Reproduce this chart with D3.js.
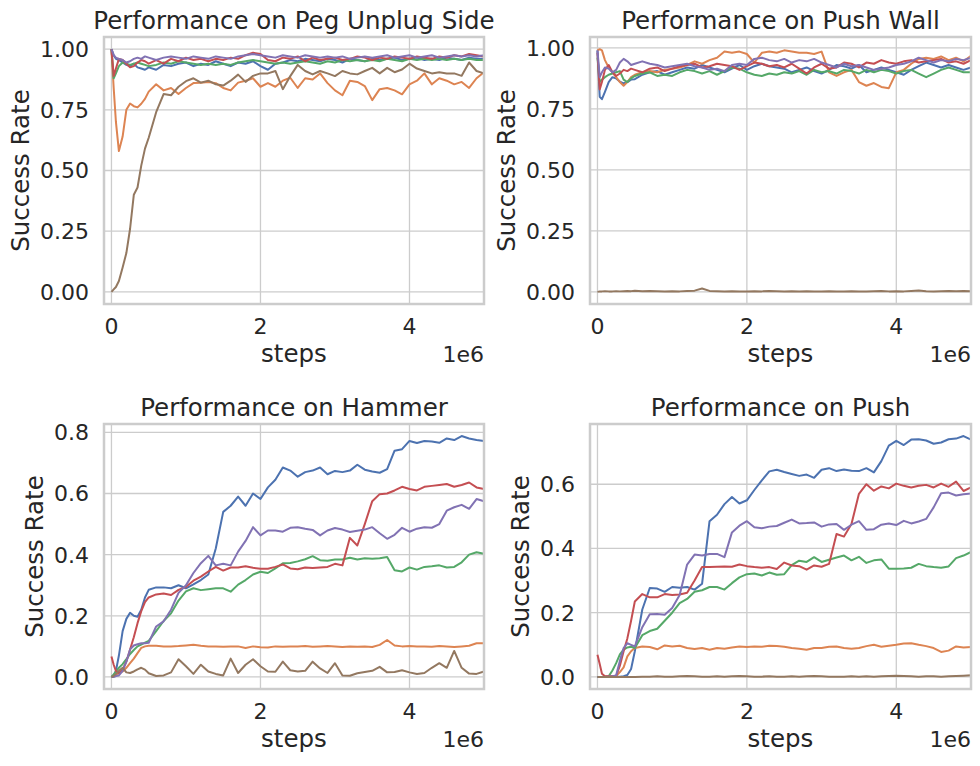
<!DOCTYPE html>
<html>
<head>
<meta charset="utf-8">
<title>Success Rate</title>
<script src="https://cdnjs.cloudflare.com/ajax/libs/d3/7.8.5/d3.min.js"></script>
<style>
    body { margin: 0; background: #fff; }
    svg { display: block; font-family: "DejaVu Sans", sans-serif; }
    .grid line { stroke: #cccccc; stroke-width: 1.3px; }
    .frame { fill: none; stroke: #cccccc; stroke-width: 2.5px; }
    .tick-label { font-size: 22px; fill: #262626; }
    .axis-label, .title { font-size: 24.5px; fill: #262626; }
    .series { fill: none; stroke-width: 2px; stroke-linejoin: round; }
</style>
</head>
<body>
<svg id="chart"></svg>
<script>
// steps in units of 1e6
const steps = [0, 0.03, 0.06, 0.1, 0.15, 0.2, 0.25, 0.3, 0.35, 0.4, 0.45, 0.5,
    0.6, 0.7, 0.8, 0.9, 1.0, 1.1, 1.2, 1.3, 1.4,
    1.5, 1.6, 1.7, 1.8, 1.9, 2.0, 2.1, 2.2, 2.3,
    2.4, 2.5, 2.6, 2.7, 2.8, 2.9, 3.0, 3.1, 3.2,
    3.3, 3.4, 3.5, 3.6, 3.7, 3.8, 3.9, 4.0, 4.1,
    4.2, 4.3, 4.4, 4.5, 4.6, 4.7, 4.8, 4.9, 5.0];

const xTicks = [0, 2, 4];
const yTicksTop = [0, 0.25, 0.5, 0.75, 1.0];
const yTicksHammer = [0, 0.2, 0.4, 0.6, 0.8];
const yTicksPush = [0, 0.2, 0.4, 0.6];

const titles = ["Performance on Peg Unplug Side", "Performance on Push Wall",
    "Performance on Hammer", "Performance on Push"];

// seaborn "deep": blue, orange, green, red, purple, brown
const colors = ["#4c72b0", "#dd8452", "#55a868", "#c44e52", "#8172b3", "#937860"];

// --- Peg Unplug Side
const pegBlue = [1.0, 0.975, 0.96, 0.955, 0.945, 0.935, 0.93, 0.94, 0.925, 0.92, 0.915, 0.925,
    0.915, 0.935, 0.93, 0.94, 0.945, 0.93, 0.94, 0.935, 0.95,
    0.94, 0.93, 0.945, 0.94, 0.95, 0.93, 0.915, 0.94, 0.945,
    0.955, 0.95, 0.96, 0.955, 0.95, 0.96, 0.955, 0.945, 0.96,
    0.955, 0.95, 0.96, 0.955, 0.96, 0.965, 0.955, 0.96, 0.965,
    0.955, 0.96, 0.955, 0.965, 0.96, 0.955, 0.965, 0.96, 0.96];
const pegOrange = [1.0, 0.84, 0.70, 0.58, 0.64, 0.75, 0.776, 0.765, 0.76, 0.775, 0.795, 0.825,
    0.855, 0.83, 0.84, 0.815, 0.84, 0.86, 0.862, 0.865, 0.86,
    0.84, 0.83, 0.862, 0.87, 0.88, 0.845, 0.86, 0.845, 0.87,
    0.882, 0.84, 0.88, 0.875, 0.9, 0.86, 0.83, 0.81, 0.87,
    0.865, 0.848, 0.79, 0.835, 0.84, 0.83, 0.814, 0.855, 0.87,
    0.9, 0.855, 0.88, 0.87, 0.855, 0.865, 0.84, 0.88, 0.905];
const pegGreen = [1.0, 0.88, 0.9, 0.93, 0.945, 0.94, 0.935, 0.94, 0.945, 0.94, 0.935, 0.93,
    0.935, 0.945, 0.94, 0.95, 0.945, 0.94, 0.935, 0.94, 0.935,
    0.94, 0.935, 0.945, 0.95, 0.955, 0.95, 0.945, 0.94, 0.945,
    0.94, 0.945, 0.95, 0.945, 0.94, 0.95, 0.945, 0.955, 0.95,
    0.955, 0.95, 0.955, 0.95, 0.96, 0.955, 0.95, 0.96, 0.955,
    0.96, 0.955, 0.96, 0.955, 0.96, 0.955, 0.96, 0.955, 0.955];
const pegRed = [1.0, 0.89, 0.92, 0.96, 0.955, 0.94, 0.925, 0.93, 0.945, 0.955, 0.95, 0.94,
    0.955, 0.94, 0.96, 0.95, 0.965, 0.955, 0.96, 0.95, 0.96,
    0.955, 0.965, 0.96, 0.975, 0.985, 0.98, 0.955, 0.95, 0.965,
    0.96, 0.97, 0.95, 0.965, 0.955, 0.96, 0.965, 0.955, 0.96,
    0.97, 0.965, 0.955, 0.965, 0.96, 0.97, 0.965, 0.96, 0.97,
    0.965, 0.96, 0.97, 0.965, 0.975, 0.97, 0.98, 0.975, 0.97];
const pegPurple = [1.0, 0.975, 0.965, 0.96, 0.955, 0.945, 0.95, 0.96, 0.965, 0.96, 0.97, 0.965,
    0.955, 0.965, 0.97, 0.965, 0.96, 0.97, 0.965, 0.96, 0.97,
    0.965, 0.96, 0.97, 0.975, 0.98, 0.975, 0.97, 0.965, 0.975,
    0.97, 0.965, 0.975, 0.97, 0.965, 0.97, 0.965, 0.97, 0.96,
    0.965, 0.97, 0.965, 0.97, 0.975, 0.965, 0.97, 0.975, 0.965,
    0.97, 0.975, 0.965, 0.97, 0.975, 0.97, 0.975, 0.97, 0.975];
const pegBrown = [0, 0.01, 0.02, 0.045, 0.1, 0.16, 0.26, 0.4, 0.43, 0.52, 0.59, 0.635,
    0.74, 0.815, 0.81, 0.845, 0.868, 0.88, 0.862, 0.87, 0.855,
    0.85, 0.87, 0.895, 0.865, 0.89, 0.9, 0.9, 0.91, 0.835,
    0.889, 0.935, 0.91, 0.896, 0.91, 0.9, 0.889, 0.91, 0.9,
    0.896, 0.91, 0.923, 0.9, 0.923, 0.905, 0.916, 0.94, 0.92,
    0.91, 0.9, 0.905, 0.9, 0.9, 0.89, 0.945, 0.91, 0.9];

// --- Push Wall
const wallBlue = [0.99, 0.80, 0.79, 0.82, 0.86, 0.88, 0.875, 0.862, 0.855, 0.86, 0.87, 0.872,
    0.89, 0.9, 0.905, 0.89, 0.9, 0.91, 0.92, 0.915, 0.93,
    0.92, 0.91, 0.9, 0.915, 0.93, 0.91, 0.925, 0.935, 0.925,
    0.92, 0.915, 0.9, 0.91, 0.92, 0.905, 0.895, 0.91, 0.93,
    0.925, 0.915, 0.93, 0.9, 0.91, 0.92, 0.91, 0.9, 0.89,
    0.91, 0.925, 0.94, 0.93, 0.92, 0.93, 0.92, 0.91, 0.92];
const wallOrange = [0.99, 0.995, 0.99, 0.95, 0.92, 0.9, 0.88, 0.86, 0.845, 0.86, 0.88, 0.89,
    0.9, 0.905, 0.9, 0.91, 0.915, 0.92, 0.93, 0.945, 0.935,
    0.95, 0.96, 0.985, 0.98, 0.985, 0.975, 0.94, 0.98, 0.985,
    0.98, 0.99, 0.985, 0.98, 0.98, 0.975, 0.985, 0.9, 0.885,
    0.9, 0.91, 0.86, 0.845, 0.856, 0.84, 0.835, 0.9, 0.91,
    0.935, 0.955, 0.96, 0.955, 0.965, 0.95, 0.96, 0.945, 0.968];
const wallGreen = [0.96, 0.86, 0.87, 0.88, 0.89, 0.895, 0.9, 0.905, 0.87, 0.86, 0.875, 0.885,
    0.895, 0.9, 0.885, 0.89, 0.885, 0.9, 0.91, 0.905, 0.895,
    0.905, 0.89, 0.905, 0.92, 0.915, 0.9, 0.89, 0.885, 0.895,
    0.89, 0.9, 0.895, 0.905, 0.89, 0.91, 0.9, 0.905, 0.895,
    0.91, 0.905, 0.895, 0.91, 0.9, 0.91, 0.905, 0.895, 0.905,
    0.91, 0.895, 0.88, 0.895, 0.91, 0.92, 0.91, 0.9, 0.9];
const wallRed = [0.98, 0.83, 0.86, 0.91, 0.93, 0.9, 0.885, 0.895, 0.91, 0.905, 0.915, 0.91,
    0.9, 0.915, 0.92, 0.905, 0.915, 0.925, 0.93, 0.935, 0.92,
    0.925, 0.935, 0.93, 0.925, 0.91, 0.925, 0.94, 0.935, 0.925,
    0.93, 0.92, 0.935, 0.915, 0.895, 0.92, 0.935, 0.915, 0.92,
    0.94, 0.935, 0.92, 0.94, 0.935, 0.95, 0.94, 0.935, 0.945,
    0.95, 0.94, 0.945, 0.95, 0.955, 0.94, 0.945, 0.935, 0.95];
const wallPurple = [0.99, 0.88, 0.9, 0.92, 0.915, 0.9, 0.91, 0.94, 0.955, 0.945, 0.93, 0.935,
    0.945, 0.935, 0.93, 0.92, 0.925, 0.93, 0.935, 0.925, 0.92,
    0.91, 0.915, 0.905, 0.93, 0.935, 0.93, 0.955, 0.96, 0.95,
    0.945, 0.955, 0.94, 0.95, 0.945, 0.955, 0.94, 0.93, 0.92,
    0.935, 0.925, 0.93, 0.92, 0.91, 0.915, 0.92, 0.93, 0.935,
    0.945, 0.96, 0.95, 0.94, 0.95, 0.945, 0.955, 0.95, 0.96];
const wallBrown = [0, 0.002, 0.002, 0.003, 0.002, 0.002, 0.003, 0.002, 0.003, 0.004, 0.003, 0.005,
    0.003, 0.004, 0.003, 0.002, 0.003, 0.002, 0.004, 0.005, 0.014,
    0.004, 0.003, 0.002, 0.003, 0.002, 0.002, 0.003, 0.002, 0.004,
    0.003, 0.002, 0.003, 0.002, 0.003, 0.002, 0.002, 0.003, 0.002,
    0.002, 0.003, 0.002, 0.002, 0.003, 0.004, 0.002, 0.003, 0.002,
    0.004, 0.006, 0.003, 0.002, 0.003, 0.004, 0.003, 0.004, 0.003];

// --- Hammer
const hamBlue = [0, 0.005, 0.02, 0.07, 0.15, 0.19, 0.21, 0.2, 0.197, 0.22, 0.26, 0.285,
    0.293, 0.293, 0.29, 0.3, 0.29, 0.303, 0.317, 0.335, 0.42,
    0.54, 0.56, 0.59, 0.56, 0.6, 0.582, 0.62, 0.645, 0.685,
    0.675, 0.655, 0.67, 0.675, 0.685, 0.663, 0.674, 0.67, 0.675,
    0.694, 0.678, 0.672, 0.668, 0.68, 0.74, 0.745, 0.772, 0.765,
    0.772, 0.77, 0.766, 0.78, 0.775, 0.788, 0.78, 0.775, 0.772];
const hamOrange = [0, 0.003, 0.008, 0.012, 0.018, 0.03, 0.045, 0.06, 0.078, 0.095, 0.1, 0.102,
    0.102, 0.1, 0.1, 0.101, 0.103, 0.105, 0.102, 0.1, 0.1,
    0.099, 0.1, 0.1, 0.095, 0.1, 0.097, 0.096, 0.1, 0.099,
    0.1, 0.1, 0.101, 0.099, 0.1, 0.101, 0.1, 0.098, 0.1,
    0.099, 0.1, 0.098, 0.105, 0.121, 0.103, 0.1, 0.101, 0.1,
    0.1, 0.099, 0.101, 0.1, 0.098, 0.1, 0.102, 0.11, 0.11];
const hamGreen = [0, 0.008, 0.018, 0.03, 0.042, 0.058, 0.075, 0.088, 0.1, 0.106, 0.112, 0.118,
    0.15, 0.183, 0.208, 0.25, 0.28, 0.29, 0.284, 0.287, 0.29,
    0.29, 0.279, 0.302, 0.317, 0.335, 0.344, 0.34, 0.355, 0.372,
    0.373, 0.378, 0.385, 0.395, 0.382, 0.38, 0.384, 0.384, 0.39,
    0.384, 0.388, 0.387, 0.388, 0.392, 0.349, 0.345, 0.358, 0.351,
    0.36, 0.362, 0.365, 0.358, 0.36, 0.375, 0.4, 0.408, 0.403];
const hamRed = [0.067, 0.04, 0.02, 0.013, 0.024, 0.05, 0.09, 0.13, 0.176, 0.215, 0.245, 0.26,
    0.27, 0.273, 0.268, 0.285, 0.295, 0.315, 0.328, 0.345, 0.36,
    0.348, 0.358, 0.358, 0.362, 0.357, 0.354, 0.354, 0.36, 0.368,
    0.355, 0.352, 0.358, 0.356, 0.358, 0.36, 0.37, 0.365, 0.455,
    0.43, 0.5, 0.575, 0.598, 0.6, 0.61, 0.622, 0.615, 0.61,
    0.622, 0.625, 0.628, 0.631, 0.622, 0.628, 0.636, 0.62, 0.615];
const hamPurple = [0, 0, 0.003, 0.005, 0.02, 0.05, 0.09, 0.103, 0.107, 0.11, 0.11, 0.112,
    0.165, 0.182, 0.22, 0.275, 0.3, 0.34, 0.372, 0.396, 0.365,
    0.37, 0.365, 0.41, 0.445, 0.49, 0.463, 0.479, 0.479, 0.475,
    0.488, 0.49, 0.485, 0.481, 0.463, 0.479, 0.487, 0.482, 0.474,
    0.478, 0.482, 0.49, 0.47, 0.452, 0.465, 0.488, 0.475, 0.485,
    0.49, 0.488, 0.5, 0.544, 0.555, 0.563, 0.55, 0.582, 0.575];
const hamBrown = [0, 0.003, 0.01, 0.02, 0.03, 0.015, 0.013, 0.018, 0.025, 0.03, 0.024, 0.012,
    0.003, 0.005, 0.015, 0.058, 0.035, 0.01, 0.04, 0.018, 0.01,
    0.005, 0.06, 0.013, 0.04, 0.058, 0.035, 0.018, 0.017, 0.05,
    0.022, 0.018, 0.02, 0.05, 0.028, 0.013, 0.045, 0.005, 0.004,
    0.012, 0.016, 0.02, 0.033, 0.015, 0.016, 0.022, 0.015, 0.01,
    0.013, 0.03, 0.045, 0.03, 0.085, 0.03, 0.011, 0.01, 0.018];

// --- Push
const pushBlue = [0, 0, 0, 0, 0, 0.001, 0.001, 0.001, 0.002, 0.006, 0.025, 0.08,
    0.21, 0.277, 0.275, 0.265, 0.28, 0.278, 0.28, 0.272, 0.29,
    0.485, 0.505, 0.538, 0.56, 0.54, 0.55, 0.582, 0.612, 0.64,
    0.645, 0.638, 0.632, 0.626, 0.63, 0.62, 0.645, 0.65, 0.641,
    0.646, 0.642, 0.641, 0.65, 0.637, 0.672, 0.72, 0.735, 0.722,
    0.739, 0.74, 0.736, 0.726, 0.73, 0.74, 0.742, 0.75, 0.739];
const pushOrange = [0, 0, 0, 0, 0.001, 0.002, 0.003, 0.015, 0.03, 0.064, 0.08, 0.09,
    0.095, 0.093, 0.086, 0.098, 0.095, 0.097, 0.09, 0.087, 0.09,
    0.085, 0.09, 0.088, 0.092, 0.095, 0.093, 0.095, 0.094, 0.097,
    0.096, 0.094, 0.09, 0.088, 0.085, 0.09, 0.09, 0.094, 0.095,
    0.09, 0.088, 0.09, 0.096, 0.1, 0.094, 0.097, 0.1, 0.104,
    0.105, 0.1, 0.096, 0.09, 0.078, 0.082, 0.095, 0.092, 0.093];
const pushGreen = [0, 0, 0, 0.001, 0.002, 0.02, 0.043, 0.07, 0.085, 0.092, 0.094, 0.09,
    0.13, 0.143, 0.15, 0.175, 0.2, 0.23, 0.243, 0.265, 0.27,
    0.28, 0.28, 0.272, 0.292, 0.31, 0.32, 0.322, 0.316, 0.325,
    0.318, 0.32, 0.348, 0.362, 0.358, 0.373, 0.358, 0.365, 0.372,
    0.378, 0.363, 0.374, 0.355, 0.363, 0.366, 0.337, 0.337, 0.338,
    0.34, 0.352, 0.345, 0.342, 0.34, 0.344, 0.37, 0.378, 0.389];
const pushRed = [0.069, 0.04, 0.01, 0.002, 0.002, 0.002, 0.003, 0.035, 0.08, 0.12, 0.175, 0.235,
    0.258, 0.248, 0.248, 0.258, 0.255, 0.257, 0.262, 0.3, 0.342,
    0.342, 0.343, 0.344, 0.343, 0.35, 0.345, 0.342, 0.34, 0.342,
    0.336, 0.356, 0.347, 0.345, 0.334, 0.347, 0.343, 0.352, 0.445,
    0.437, 0.476, 0.57, 0.6, 0.58, 0.593, 0.587, 0.602, 0.595,
    0.59, 0.595, 0.598, 0.59, 0.602, 0.592, 0.608, 0.579, 0.59];
const pushPurple = [0, 0, 0, 0, 0.001, 0.002, 0.005, 0.05, 0.09, 0.105, 0.1, 0.095,
    0.155, 0.195, 0.196, 0.194, 0.215, 0.255, 0.35, 0.381, 0.378,
    0.383, 0.383, 0.373, 0.45, 0.471, 0.485, 0.466, 0.463, 0.468,
    0.47, 0.48, 0.49, 0.478, 0.479, 0.481, 0.468, 0.475, 0.476,
    0.458, 0.474, 0.485, 0.458, 0.46, 0.474, 0.478, 0.473, 0.486,
    0.478, 0.484, 0.492, 0.528, 0.572, 0.574, 0.565, 0.569, 0.571];
const pushBrown = [0, 0, 0, 0, 0, 0, 0, 0, 0, 0, 0, 0,
    0.001, 0.001, 0.002, 0.001, 0.001, 0.002, 0.003, 0.002, 0.001,
    0.001, 0.002, 0.001, 0.002, 0.003, 0.002, 0.001, 0.001, 0.002,
    0.001, 0.001, 0.002, 0.001, 0.002, 0.003, 0.002, 0.001, 0.001,
    0.001, 0.002, 0.001, 0.002, 0.001, 0.002, 0.003, 0.004, 0.003,
    0.002, 0.001, 0.002, 0.002, 0.001, 0.002, 0.003, 0.004, 0.005];

const panels = [
    { title: titles[0], yTicks: yTicksTop, fmt: ".2f",
      series: [pegBlue, pegOrange, pegGreen, pegRed, pegPurple, pegBrown] },
    { title: titles[1], yTicks: yTicksTop, fmt: ".2f",
      series: [wallBlue, wallOrange, wallGreen, wallRed, wallPurple, wallBrown] },
    { title: titles[2], yTicks: yTicksHammer, fmt: ".1f",
      series: [hamBlue, hamOrange, hamGreen, hamRed, hamPurple, hamBrown] },
    { title: titles[3], yTicks: yTicksPush, fmt: ".1f",
      series: [pushBlue, pushOrange, pushGreen, pushRed, pushPurple, pushBrown] }
];

// axes boxes in pixels
const frames = [
    { left: 104, right: 484, top: 37, bottom: 304 },
    { left: 590, right: 971, top: 37, bottom: 304 },
    { left: 104, right: 484, top: 424, bottom: 689 },
    { left: 590, right: 971, top: 424, bottom: 689 }
];

const svg = d3.select("#chart").attr("width", 980).attr("height", 766);

panels.forEach((p, i) => drawPanel(p, frames[i]));

function drawPanel(p, f) {
    const g = svg.append("g");

    const x = d3.scaleLinear().domain([-0.1, 5.0]).range([f.left, f.right]);
    const all = p.series.flat();
    const lo = d3.min(all), hi = d3.max(all), pad = (hi - lo) * 0.05;
    const y = d3.scaleLinear().domain([lo - pad, hi + pad]).range([f.bottom, f.top]);

    const grid = g.append("g").attr("class", "grid");
    grid.selectAll(".gx").data(xTicks).join("line")
        .attr("class", "gx")
        .attr("x1", d => x(d)).attr("x2", d => x(d))
        .attr("y1", f.top).attr("y2", f.bottom);
    grid.selectAll(".gy").data(p.yTicks).join("line")
        .attr("class", "gy")
        .attr("x1", f.left).attr("x2", f.right)
        .attr("y1", d => y(d)).attr("y2", d => y(d));

    const line = d3.line()
        .x((d, j) => x(steps[j]))
        .y(d => y(d));

    g.selectAll(".series").data(p.series).join("path")
        .attr("class", "series")
        .attr("stroke", (d, k) => colors[k])
        .attr("d", line);

    g.append("rect").attr("class", "frame")
        .attr("x", f.left).attr("y", f.top)
        .attr("width", f.right - f.left).attr("height", f.bottom - f.top);

    g.selectAll(".xt").data(xTicks).join("text")
        .attr("class", "tick-label xt")
        .attr("x", d => x(d)).attr("y", f.bottom + 30)
        .attr("text-anchor", "middle")
        .text(d => d3.format("d")(d));

    const yt = g.selectAll(".yt").data(p.yTicks).join("text")
        .attr("class", "tick-label yt")
        .attr("x", f.left - 15).attr("y", d => y(d))
        .attr("dy", "0.36em")
        .attr("text-anchor", "end")
        .text(d => d3.format(p.fmt)(d));

    const minX = d3.min(yt.nodes(), n => n.getBBox().x);

    g.append("text").attr("class", "axis-label")
        .attr("transform", `translate(${minX - 11},${(f.top + f.bottom) / 2}) rotate(-90)`)
        .attr("text-anchor", "middle")
        .text("Success Rate");

    g.append("text").attr("class", "axis-label")
        .attr("x", (f.left + f.right) / 2).attr("y", f.bottom + 58)
        .attr("text-anchor", "middle")
        .text("steps");

    g.append("text").attr("class", "tick-label")
        .attr("x", f.right).attr("y", f.bottom + 58)
        .attr("text-anchor", "end")
        .text("1e6");

    g.append("text").attr("class", "title")
        .attr("x", (f.left + f.right) / 2).attr("y", f.top - 8)
        .attr("text-anchor", "middle")
        .text(p.title);
}
</script>
</body>
</html>
